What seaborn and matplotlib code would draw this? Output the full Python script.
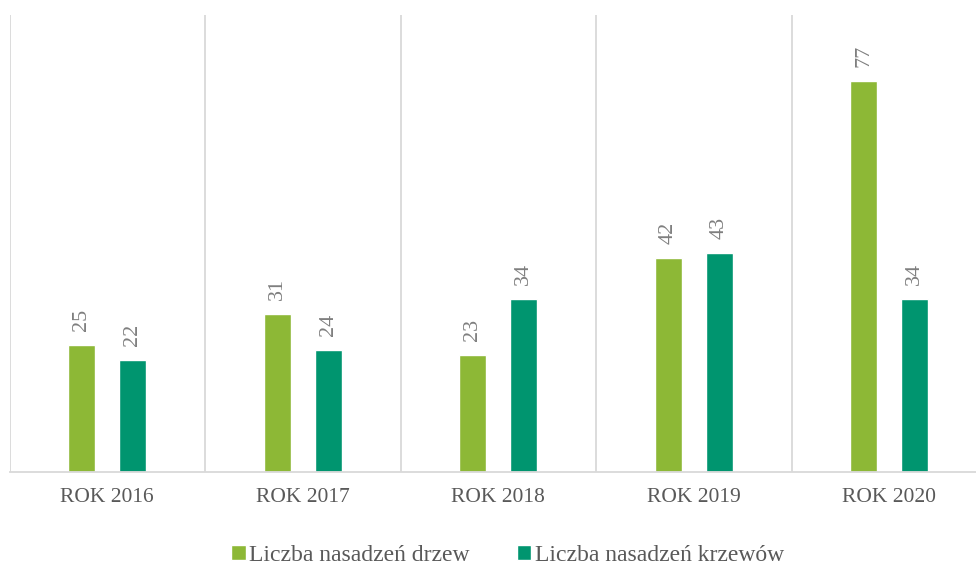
import pandas as pd
import numpy as np
import seaborn as sns
import matplotlib.pyplot as plt

years = ['ROK 2016', 'ROK 2017', 'ROK 2018', 'ROK 2019', 'ROK 2020']
trees = [25, 31, 23, 42, 77]
shrubs = [22, 24, 34, 43, 34]
series_names = ['Liczba nasadzeń drzew', 'Liczba nasadzeń krzewów']
colors = ['#8DB836', '#00956F']

df = pd.DataFrame({
    'rok': years * 2,
    'seria': [series_names[0]] * len(years) + [series_names[1]] * len(years),
    'wartosc': trees + shrubs,
})

sns.set_style('white')
plt.rcParams['font.family'] = ['Liberation Serif', 'DejaVu Serif']

fig = plt.figure(figsize=(9.76, 5.67), dpi=100)
ax = fig.add_axes([9.5 / 976, 95.5 / 567, 977.5 / 976, 457 / 567])

sns.barplot(data=df, x='rok', y='wartosc', hue='seria', palette=colors,
            saturation=1, width=0.52, gap=0.47, ax=ax, legend=True)

# rotated value labels above bars
for c in ax.containers:
    ax.bar_label(c, rotation=90, padding=10, fontsize=16, color='#7F7F7F')

ax.set_ylim(0, 90)
ax.set_xlim(-0.5, len(years) - 0.5)
ax.set_yticks([])
ax.set_xlabel('')
ax.set_ylabel('')

# category separators
for i in range(len(years) + 1):
    ax.axvline(i - 0.5, color='#D9D9D9', lw=1.3, zorder=0)

for s in ['top', 'right', 'left']:
    ax.spines[s].set_visible(False)
ax.spines['bottom'].set_color('#D9D9D9')
ax.spines['bottom'].set_linewidth(1.3)

ax.tick_params(axis='x', length=0, pad=12, labelsize=15.5, labelcolor='#595959')

handles, labels = ax.get_legend_handles_labels()
ax.get_legend().remove()
fig.legend(handles, labels, loc='lower center', bbox_to_anchor=(0.52, -0.035),
           ncol=2, frameon=False, fontsize=17, labelcolor='#595959',
           handlelength=0.6, handleheight=0.6, handletextpad=0.15,
           columnspacing=2.0)

plt.savefig('out.png', dpi=100)
